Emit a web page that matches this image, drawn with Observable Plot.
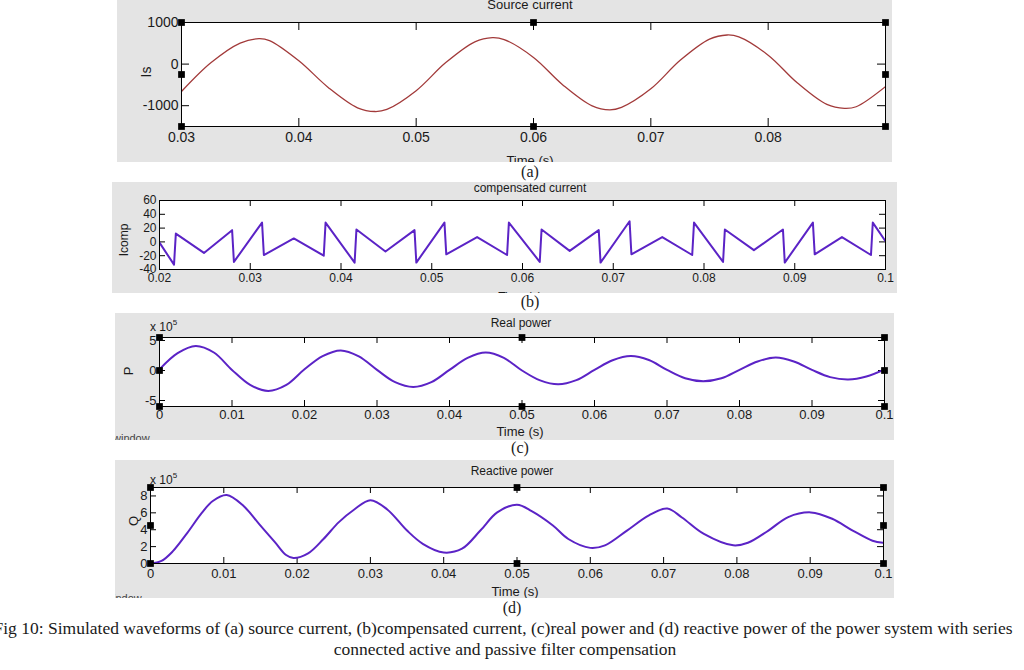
<!DOCTYPE html>
<html><head><meta charset="utf-8">
<script src="https://cdn.jsdelivr.net/npm/d3@7"></script>
<script src="https://cdn.jsdelivr.net/npm/@observablehq/plot@0.6"></script>
<style>
body{margin:0;background:#fff;}
#fig{position:relative;width:1024px;height:670px;overflow:hidden;font-family:"Liberation Sans",Arial,sans-serif;color:#1a1a1a;}
.panel{position:absolute;overflow:hidden;background:#e4e4e4;}
.panel svg{position:absolute;left:0;top:0;}
.t{position:absolute;white-space:nowrap;transform:translate(-50%,-50%);line-height:1;}
.l{position:absolute;white-space:nowrap;transform:translate(0,-50%);line-height:1;}
.r{position:absolute;white-space:nowrap;transform:translate(-50%,-50%) rotate(-90deg);line-height:1;}
.serif{font-family:"Liberation Serif","Times New Roman",serif;}
</style></head><body><div id="fig"></div>
<script>
// ---------- data ----------
// (a) Source current
const sourceTime = [0.0300,0.0325,0.0350,0.0366,0.0375,0.0400,0.0425,0.0450,0.0465,0.0475,0.0500,0.0525,0.0550,0.0565,0.0575,0.0600,0.0625,0.0650,0.0665,0.0675,0.0700,0.0725,0.0750,0.0765,0.0775,0.0800,0.0825,0.0850,0.0865,0.0875,0.0900];
const sourceCurrent = [-660,30,505,610,565,80,-560,-1050,-1140,-1090,-640,30,535,635,590,160,-500,-1005,-1100,-1040,-595,90,600,700,655,215,-455,-970,-1065,-1025,-540];
// (b) compensated current
const compTime = [0.0200,0.0216,0.0218,0.0249,0.0280,0.0282,0.0313,0.0315,0.0348,0.0381,0.0383,0.0415,0.0417,0.0449,0.0481,0.0483,0.0514,0.0516,0.0550,0.0583,0.0585,0.0619,0.0621,0.0652,0.0684,0.0686,0.0718,0.0720,0.0754,0.0787,0.0789,0.0821,0.0823,0.0855,0.0887,0.0889,0.0920,0.0922,0.0952,0.0984,0.0986,0.1000];
const compCurrent = [-1,-33,12,-16,17,-29,28,-19,5,-20,28,-30,18,-14,17,-30,28,-18,7,-19,28,-29,18,-13,17,-30,30,-18,7,-19,28,-29,18,-12,18,-30,28,-18,7,-19,28,1];
// (c) Real power (x 10^5)
const realTime = [0,0.0025,0.005,0.0075,0.01,0.0125,0.015,0.0175,0.02,0.0225,0.025,0.0275,0.03,0.0325,0.035,0.0375,0.04,0.0425,0.045,0.0475,0.05,0.0525,0.055,0.0575,0.06,0.0625,0.065,0.0675,0.07,0.0725,0.075,0.0775,0.08,0.0825,0.085,0.0875,0.09,0.0925,0.095,0.0975,0.1];
const realPower = [0.2,2.9,4.1,3.0,0.1,-2.4,-3.4,-2.4,0.2,2.4,3.35,2.35,0.1,-1.95,-2.75,-1.95,0.1,2.1,3.0,2.1,0.0,-1.65,-2.3,-1.6,0.1,1.7,2.4,1.75,0.1,-1.3,-1.8,-1.3,0.1,1.5,2.15,1.5,0.1,-1.1,-1.5,-1.0,0.2];
// (d) Reactive power (x 10^5)
const reactTime = [0,0.0015,0.003,0.005,0.007,0.0085,0.0104,0.0127,0.0148,0.017,0.0185,0.0195,0.0215,0.0236,0.0257,0.0278,0.030,0.0323,0.035,0.0372,0.040,0.0425,0.045,0.0473,0.050,0.052,0.0549,0.057,0.060,0.062,0.065,0.068,0.0705,0.0725,0.0755,0.0795,0.0815,0.0843,0.087,0.0901,0.093,0.0958,0.0985,0.1];
const reactPower = [0,0.3,1.4,3.6,6.0,7.4,8.1,6.8,4.7,2.5,1.0,0.65,1.2,2.9,4.9,6.4,7.5,6.4,3.9,2.3,1.3,1.75,3.9,6.05,6.95,6.2,4.5,2.9,1.85,2.15,3.9,5.7,6.5,5.45,3.5,2.15,2.45,3.9,5.5,6.05,5.3,3.9,2.7,2.45];

// ticks
const xTicksA = [0.03,0.04,0.05,0.06,0.07,0.08];
const xLabelsA = ["0.03","0.04","0.05","0.06","0.07","0.08"];
const yTicksA = [-1000,0,1000];
const yLabelsA = ["-1000","0","1000"];
const xTicksB = [0.02,0.03,0.04,0.05,0.06,0.07,0.08,0.09,0.1];
const xLabelsB = ["0.02","0.03","0.04","0.05","0.06","0.07","0.08","0.09","0.1"];
const yTicksB = [-40,-20,0,20,40,60];
const yLabelsB = ["-40","-20","0","20","40","60"];
const xTicksCD = [0,0.01,0.02,0.03,0.04,0.05,0.06,0.07,0.08,0.09,0.1];
const xLabelsCD = ["0","0.01","0.02","0.03","0.04","0.05","0.06","0.07","0.08","0.09","0.1"];
const yTicksC = [-5,0,5];
const yLabelsC = ["-5","0","5"];
const yTicksD = [0,2,4,6,8];
const yLabelsD = ["0","2","4","6","8"];

const fig = document.getElementById("fig");

function addText(parent, cls, text, x, y, size, extra) {
  const d = document.createElement("div");
  d.className = cls;
  d.innerHTML = text;
  d.style.left = x + "px";
  d.style.top = y + "px";
  d.style.fontSize = size + "px";
  if (extra) Object.assign(d.style, extra);
  parent.appendChild(d);
  return d;
}

function makePanel(cfg) {
  const div = document.createElement("div");
  div.className = "panel";
  Object.assign(div.style, {left: cfg.box[0] + "px", top: cfg.box[1] + "px", width: cfg.box[2] + "px", height: cfg.box[3] + "px"});
  fig.appendChild(div);
  const [bl, bt, bw, bh] = cfg.box;
  const [fl, fr, ft, fb] = cfg.frame;
  const mL = fl - bl, mR = bl + bw - fr, mT = ft - bt, mB = bt + bh - fb;
  const innerW = fr - fl, innerH = fb - ft;
  const data = cfg.xs.map((x, i) => ({x, y: cfg.ys[i]}));
  const xd = cfg.xDomain, yd = cfg.yDomain;
  const xm = cfg.handleXMid, ym = cfg.handleYMid;
  const handles = cfg.handles ? [
    {x: xd[0], y: yd[0]}, {x: xd[1], y: yd[0]}, {x: xd[0], y: yd[1]}, {x: xd[1], y: yd[1]},
    {x: xm, y: yd[0]}, {x: xm, y: yd[1]}, {x: xd[0], y: ym}, {x: xd[1], y: ym}
  ] : [];
  const tl = cfg.tickLen;
  const svg = Plot.plot({
    width: bw, height: bh,
    marginLeft: mL, marginRight: mR, marginTop: mT, marginBottom: mB,
    x: {domain: xd},
    y: {domain: yd},
    style: {background: "#e4e4e4", fontFamily: "Liberation Sans, Arial, sans-serif", fontSize: cfg.fontSize + "px", color: "#1a1a1a"},
    marks: [
      Plot.frame({fill: "white"}),
      Plot.tickX(cfg.xTicks, {x: d => d, stroke: "black", insetTop: innerH - tl}),
      Plot.tickX(cfg.xTicks, {x: d => d, stroke: "black", insetBottom: innerH - tl}),
      Plot.tickY(cfg.yTicks, {y: d => d, stroke: "black", insetRight: innerW - tl}),
      Plot.tickY(cfg.yTicks, {y: d => d, stroke: "black", insetLeft: innerW - tl}),
      Plot.line(data, {x: "x", y: "y", stroke: cfg.color, strokeWidth: cfg.strokeWidth, curve: cfg.curve, clip: true}),
      Plot.frame({stroke: "black", strokeWidth: 1}),
      Plot.axisX({ticks: cfg.xTicks, tickFormat: d => cfg.xLabels[cfg.xTicks.indexOf(d)], tickSize: 0, tickPadding: cfg.xPad, label: null, fontSize: cfg.fontSize}),
      Plot.axisY({ticks: cfg.yTicks, tickFormat: d => cfg.yLabels[cfg.yTicks.indexOf(d)], tickSize: 0, tickPadding: 3, label: null, fontSize: cfg.fontSize}),
      Plot.dot(handles, {x: "x", y: "y", symbol: "square", r: 3.8, fill: "black", stroke: "none"})
    ]
  });
  div.appendChild(svg);
  for (const t of cfg.texts) {
    addText(div, t.cls, t.text, t.x - bl, t.y - bt, t.size, t.extra);
  }
  return div;
}

// (a)
makePanel({
  box: [117, 0, 775, 162], frame: [181, 885, 22, 126],
  xDomain: [0.03, 0.09], yDomain: [-1500, 1000],
  xs: sourceTime, ys: sourceCurrent, color: "#a23a3a", strokeWidth: 1.3, curve: "catmull-rom",
  xTicks: xTicksA, xLabels: xLabelsA, yTicks: yTicksA, yLabels: yLabelsA,
  tickLen: 8, fontSize: 14, xPad: 6, handles: true, handleXMid: 0.06, handleYMid: -250,
  texts: [
    {cls: "t", text: "Source current", x: 530, y: 4, size: 13},
    {cls: "r", text: "Is", x: 146, y: 72, size: 14},
    {cls: "t", text: "Time (s)", x: 530, y: 160, size: 13}
  ]
});
// (b)
makePanel({
  box: [112, 182, 785, 111], frame: [159, 885, 200, 269],
  xDomain: [0.02, 0.1], yDomain: [-40, 60],
  xs: compTime, ys: compCurrent, color: "#5b23c6", strokeWidth: 2, curve: "linear",
  xTicks: xTicksB, xLabels: xLabelsB, yTicks: yTicksB, yLabels: yLabelsB,
  tickLen: 6, fontSize: 12, xPad: 4, handles: false,
  texts: [
    {cls: "t", text: "compensated current", x: 530, y: 188, size: 12},
    {cls: "r", text: "Icomp", x: 124, y: 240, size: 12},
    {cls: "t", text: "Time (s)", x: 520, y: 297, size: 12}
  ]
});
// (c)
makePanel({
  box: [115, 313, 779, 127], frame: [159, 884, 337, 406],
  xDomain: [0, 0.1], yDomain: [-6, 5.5],
  xs: realTime, ys: realPower, color: "#5b23c6", strokeWidth: 2, curve: "catmull-rom",
  xTicks: xTicksCD, xLabels: xLabelsCD, yTicks: yTicksC, yLabels: yLabelsC,
  tickLen: 6, fontSize: 13, xPad: 3, handles: true, handleXMid: 0.05, handleYMid: 0,
  texts: [
    {cls: "t", text: "Real power", x: 521, y: 323, size: 12},
    {cls: "l", text: "x 10<sup style='font-size:8px;vertical-align:6px'>5</sup>", x: 150, y: 326, size: 12},
    {cls: "r", text: "P", x: 128, y: 371, size: 13},
    {cls: "t", text: "Time (s)", x: 520, y: 431, size: 13},
    {cls: "l", text: "window", x: 113, y: 438, size: 11, extra: {color: "#444"}}
  ]
});
// (d)
makePanel({
  box: [115, 460, 779, 138], frame: [150, 883, 487, 563],
  xDomain: [0, 0.1], yDomain: [0, 9],
  xs: reactTime, ys: reactPower, color: "#5b23c6", strokeWidth: 2, curve: "catmull-rom",
  xTicks: xTicksCD, xLabels: xLabelsCD, yTicks: yTicksD, yLabels: yLabelsD,
  tickLen: 6, fontSize: 13, xPad: 5, handles: true, handleXMid: 0.05, handleYMid: 4.5,
  texts: [
    {cls: "t", text: "Reactive power", x: 512, y: 471, size: 12},
    {cls: "l", text: "x 10<sup style='font-size:8px;vertical-align:6px'>5</sup>", x: 150, y: 479, size: 12},
    {cls: "r", text: "Q", x: 133, y: 521, size: 13},
    {cls: "t", text: "Time (s)", x: 515, y: 591, size: 13},
    {cls: "l", text: "indow", x: 113, y: 598, size: 11, extra: {color: "#444"}}
  ]
});

// sub-captions and figure caption
addText(fig, "t serif", "(a)", 530, 172, 16);
addText(fig, "t serif", "(b)", 530, 302, 16);
addText(fig, "t serif", "(c)", 520, 448, 16);
addText(fig, "t serif", "(d)", 512, 608, 16);
addText(fig, "t serif", "Fig 10: Simulated waveforms of (a) source current, (b)compensated current, (c)real power and (d) reactive power of the power system with series", 503, 629, 17.5);
addText(fig, "t serif", "connected active and passive filter compensation", 505, 650, 17.5);
</script></body></html>
